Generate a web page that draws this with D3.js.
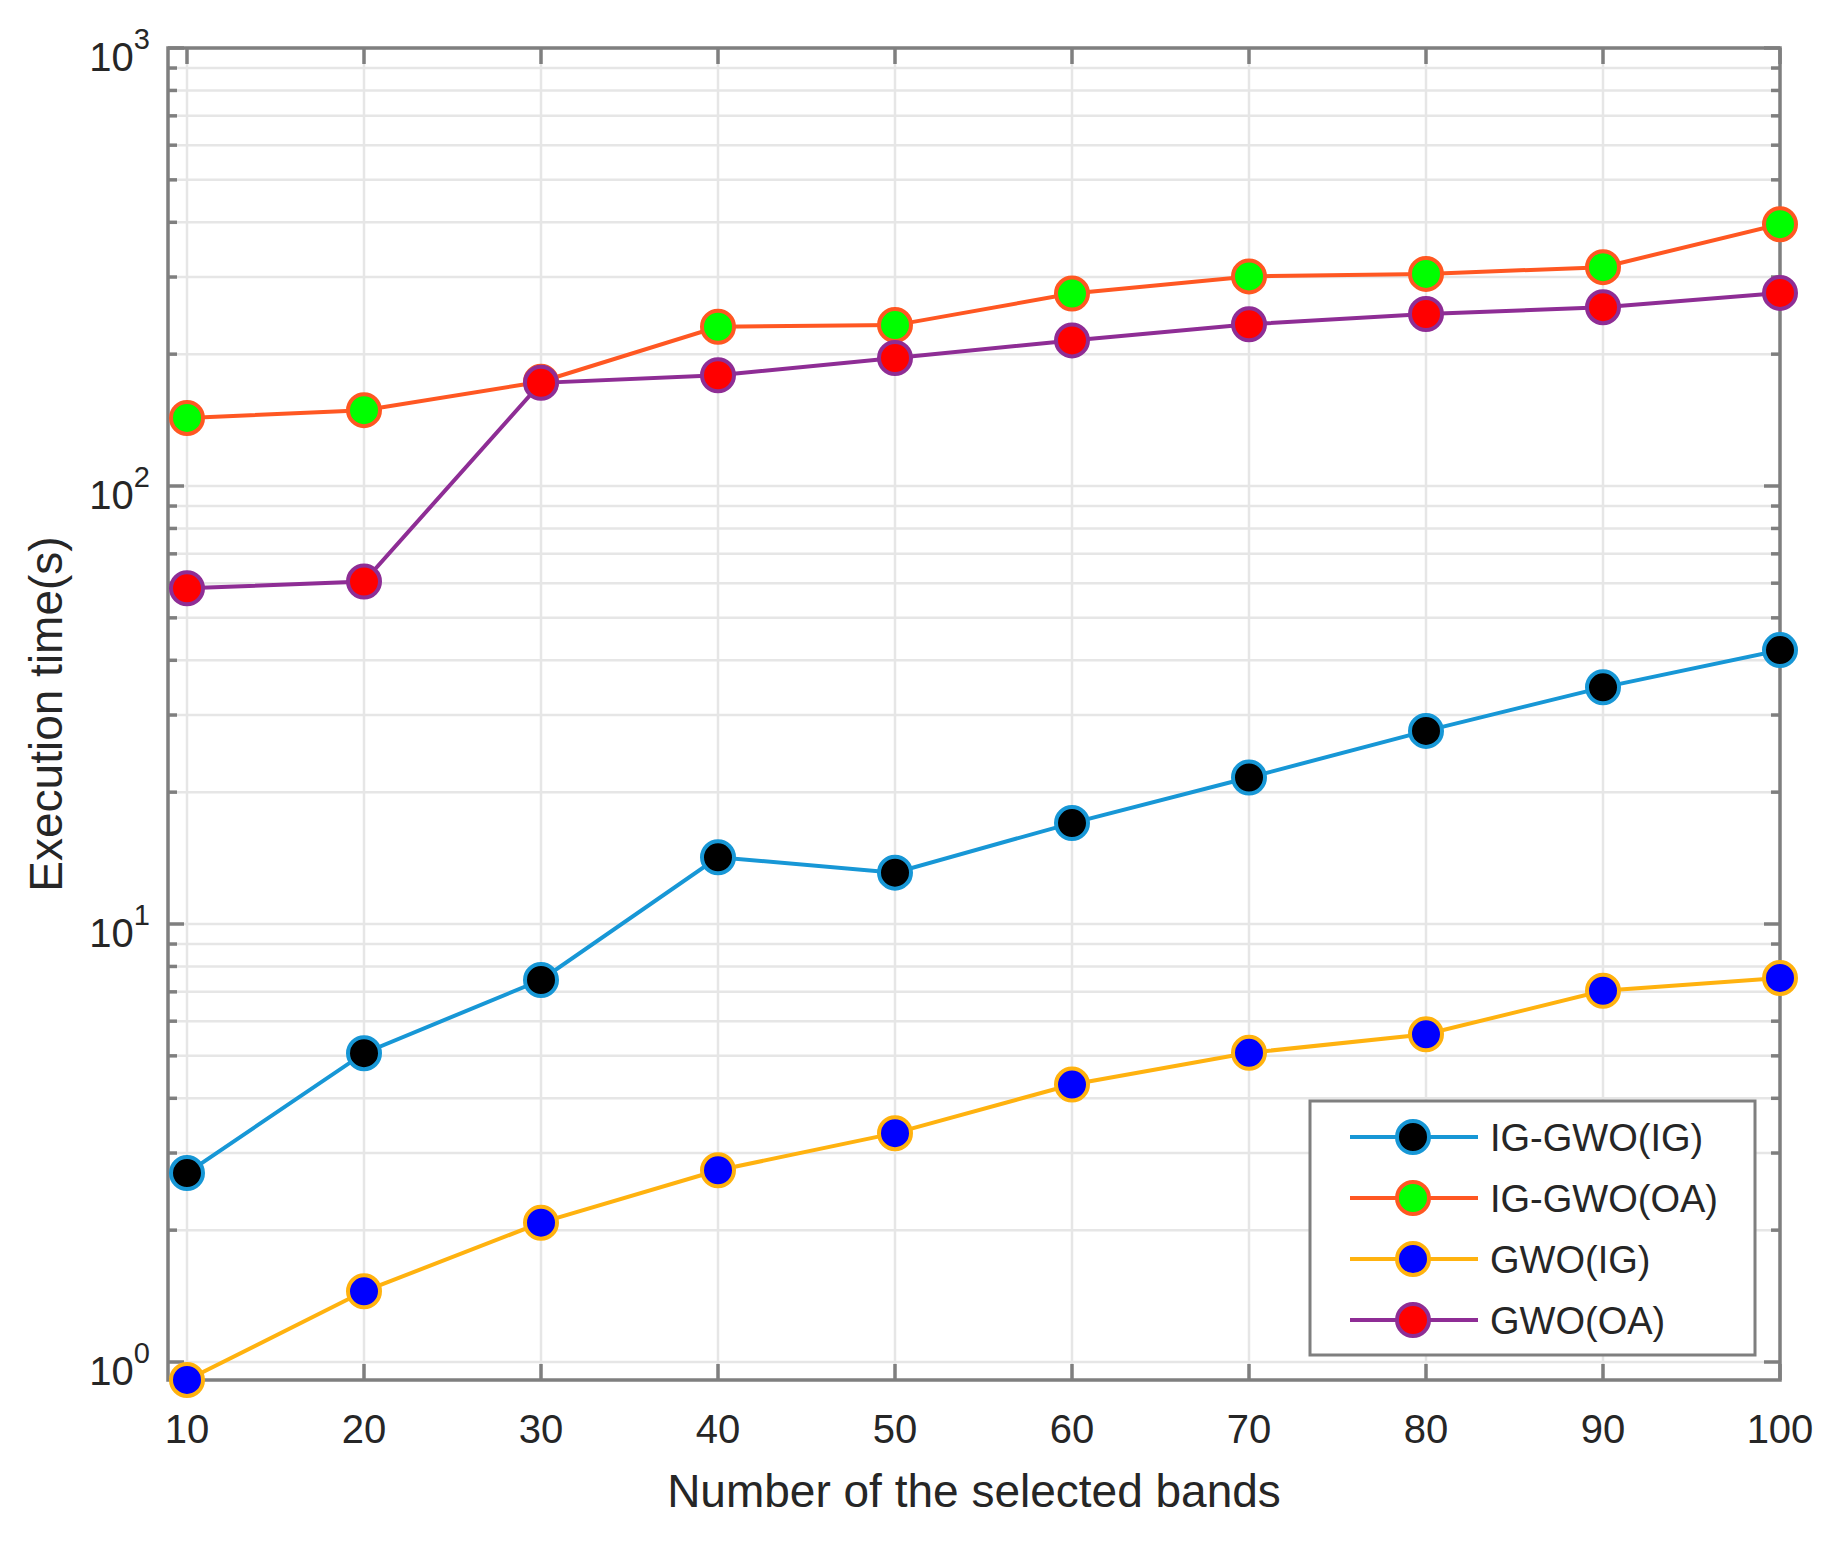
<!doctype html>
<html lang="en">

<head>
  <meta charset="UTF-8" />
  <script src="https://cdn.jsdelivr.net/npm/d3@7"></script>
  <style>
    body {
      margin: 0;
      background: white;
    }

    text {
      font-family: "Liberation Sans", Arial, Helvetica, sans-serif;
      fill: #262626;
    }

    .grid line {
      stroke: #e6e6e6;
      stroke-width: 2.5;
    }

    .axis line, .axis rect {
      stroke: #7f7f7f;
      stroke-width: 3.5;
      fill: none;
    }
  </style>
  <title>Execution time</title>
</head>

<body>
  <script>
    // data
    var bands = [10, 20, 30, 40, 50, 60, 70, 80, 90, 100];
    var igGwoIG = [2.70, 5.07, 7.45, 14.2, 13.1, 17.0, 21.6, 27.6, 34.7, 42.2];
    var igGwoOA = [143, 149, 173, 231, 233, 275, 301, 305, 316, 396];
    var gwoIG = [0.91, 1.45, 2.08, 2.74, 3.33, 4.30, 5.08, 5.60, 7.04, 7.53];
    var gwoOA = [58.4, 60.5, 172, 179, 196, 215, 234, 247, 256, 276];

    var seriesNames = ["IG-GWO(IG)", "IG-GWO(OA)", "GWO(IG)", "GWO(OA)"];
    var lineColors = ["#1797d6", "#ff5722", "#ffb20f", "#8e2d95"];
    var fillColors = ["#000000", "#00ff00", "#0000ff", "#ff0000"];
    var seriesValues = [igGwoIG, igGwoOA, gwoIG, gwoOA];

    var xTicks = bands;
    var yDecades = [0, 1, 2, 3];

    var W = 1835, H = 1542;
    var boxL = 168, boxR = 1780, boxT = 48, boxB = 1380;

    var svg = d3.select("body").append("svg")
      .attr("width", W).attr("height", H);
    svg.append("rect").attr("width", W).attr("height", H).attr("fill", "white");

    var x = d3.scaleLinear().domain([10, 100]).range([187, boxR]);
    var y = d3.scaleLog().domain([1, 1000]).range([1362, boxT]);

    // minor values inside the box
    var minor = [];
    yDecades.forEach(function (k) {
      for (var m = 2; m <= 9; m++) {
        var v = m * Math.pow(10, k);
        if (y(v) >= boxT && y(v) <= boxB) minor.push(v);
      }
    });
    var major = yDecades.map(function (k) { return Math.pow(10, k); });

    // grid
    var grid = svg.append("g").attr("class", "grid");
    grid.selectAll(".gy").data(minor.concat(major)).enter().append("line")
      .attr("x1", boxL).attr("x2", boxR)
      .attr("y1", function (d) { return y(d); })
      .attr("y2", function (d) { return y(d); });
    grid.selectAll(".gx").data(xTicks).enter().append("line")
      .attr("x1", function (d) { return x(d); })
      .attr("x2", function (d) { return x(d); })
      .attr("y1", boxT).attr("y2", boxB);

    // axes box and ticks
    var ax = svg.append("g").attr("class", "axis");
    ax.append("rect").attr("x", boxL).attr("y", boxT)
      .attr("width", boxR - boxL).attr("height", boxB - boxT);

    xTicks.forEach(function (d) {
      ax.append("line").attr("x1", x(d)).attr("x2", x(d)).attr("y1", boxB).attr("y2", boxB - 16);
      ax.append("line").attr("x1", x(d)).attr("x2", x(d)).attr("y1", boxT).attr("y2", boxT + 16);
    });
    major.forEach(function (d) {
      ax.append("line").attr("x1", boxL).attr("x2", boxL + 16).attr("y1", y(d)).attr("y2", y(d));
      ax.append("line").attr("x1", boxR).attr("x2", boxR - 16).attr("y1", y(d)).attr("y2", y(d));
    });
    minor.forEach(function (d) {
      ax.append("line").attr("x1", boxL).attr("x2", boxL + 9).attr("y1", y(d)).attr("y2", y(d));
      ax.append("line").attr("x1", boxR).attr("x2", boxR - 9).attr("y1", y(d)).attr("y2", y(d));
    });

    // tick labels
    svg.append("g").selectAll("text").data(xTicks).enter().append("text")
      .attr("x", function (d) { return x(d); })
      .attr("y", 1443)
      .attr("text-anchor", "middle")
      .attr("font-size", 40)
      .text(function (d) { return d; });

    var yl = svg.append("g").selectAll("text").data(yDecades).enter().append("text")
      .attr("x", 150)
      .attr("y", function (d) { return y(Math.pow(10, d)) + 23; })
      .attr("text-anchor", "end")
      .attr("font-size", 40);
    yl.append("tspan").text("10");
    yl.append("tspan").attr("dy", -22).attr("font-size", 29).text(function (d) { return d; });

    // axis labels
    svg.append("text")
      .attr("x", (boxL + boxR) / 2).attr("y", 1507)
      .attr("text-anchor", "middle").attr("font-size", 46)
      .text("Number of the selected bands");
    svg.append("text")
      .attr("transform", "translate(62," + (boxT + boxB) / 2 + ") rotate(-90)")
      .attr("text-anchor", "middle").attr("font-size", 46)
      .text("Execution time(s)");

    // series
    var line = d3.line()
      .x(function (d, i) { return x(bands[i]); })
      .y(function (d) { return y(d); });

    seriesValues.forEach(function (vals, s) {
      var g = svg.append("g");
      g.append("path").attr("d", line(vals))
        .attr("fill", "none").attr("stroke", lineColors[s]).attr("stroke-width", 4);
      g.selectAll("circle").data(vals).enter().append("circle")
        .attr("cx", function (d, i) { return x(bands[i]); })
        .attr("cy", function (d) { return y(d); })
        .attr("r", 16)
        .attr("fill", fillColors[s])
        .attr("stroke", lineColors[s]).attr("stroke-width", 4);
    });

    // legend
    var lg = svg.append("g");
    lg.append("rect").attr("x", 1310).attr("y", 1101).attr("width", 445).attr("height", 254)
      .attr("fill", "white").attr("stroke", "#7f7f7f").attr("stroke-width", 3);
    seriesNames.forEach(function (name, s) {
      var cy = 1137 + s * 61;
      lg.append("line").attr("x1", 1350).attr("x2", 1478).attr("y1", cy).attr("y2", cy)
        .attr("stroke", lineColors[s]).attr("stroke-width", 4);
      lg.append("circle").attr("cx", 1413).attr("cy", cy).attr("r", 16)
        .attr("fill", fillColors[s]).attr("stroke", lineColors[s]).attr("stroke-width", 4);
      lg.append("text").attr("x", 1490).attr("y", cy + 14).attr("font-size", 38).text(name);
    });
  </script>
</body>

</html>
